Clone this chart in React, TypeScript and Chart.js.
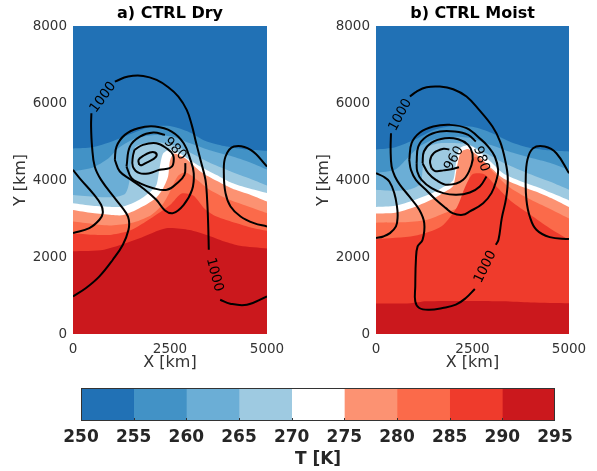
import React, { useEffect, useRef } from 'react';
import { Chart, registerables } from 'chart.js';
Chart.register(...registerables);
Chart.defaults.font.family = '"DejaVu Sans", sans-serif';

type P = [number, number] | null;

// ---------- shared axes / levels ----------
const X_TICKS = [0, 2500, 5000];
const Y_TICKS = [0, 2000, 4000, 6000, 8000];
const LEVELS = [250, 255, 260, 265, 270, 275, 280, 285, 290, 295];
const LEVEL_COLORS = ['#2171b5', '#4292c6', '#6baed6', '#9ecae1', '#ffffff', '#fc9272', '#fb6a4a', '#ef3b2c', '#cb181d'];

// ---------- a) CTRL Dry : isotherms (lower boundary of colder band) ----------
const DRY_T255: P[] = [[0, 4820], [500, 4850], [1000, 5000], [1500, 5200], [2000, 5380], [2500, 5400], [3000, 5240], [3400, 5020], [3900, 4880], [4400, 4800], [5000, 4760]];
const DRY_T260: P[] = [[0, 4230], [500, 4320], [900, 4550], [1200, 4850], [1600, 5080], [2100, 5170], [2600, 5120], [3000, 4960], [3500, 4780], [4000, 4640], [4500, 4480], [5000, 4270]];
const DRY_T265: P[] = [[0, 3610], [600, 3560], [1100, 3560], [1350, 3650], [1450, 3950], [1500, 4500], [1600, 4850], [1900, 4960], [2300, 4970], [2600, 4900], [3000, 4720], [3500, 4460], [4000, 4250], [4500, 4060], [5000, 3860]];
const DRY_T270: P[] = [[0, 3394], [500, 3330], [1000, 3300], [1300, 3310], [1700, 3480], [2000, 3700], [2150, 3870], [2230, 4300], [2320, 4680], [2500, 4790], [2800, 4660], [3000, 4520], [3300, 4340], [3700, 4130], [4100, 3920], [4500, 3790], [5000, 3660]];
const DRY_T275: P[] = [[0, 3220], [500, 3140], [1000, 3090], [1300, 3090], [1700, 3260], [2100, 3500], [2300, 3740], [2450, 4090], [2500, 4500], [2600, 4690], [2900, 4560], [3300, 4210], [3700, 3980], [4100, 3780], [4500, 3640], [5000, 3440]];
const DRY_T280: P[] = [[0, 2920], [500, 2860], [1000, 2820], [1500, 2880], [2000, 3080], [2300, 3350], [2500, 3700], [2700, 4100], [2900, 4200], [3200, 4000], [3500, 3760], [4000, 3500], [4500, 3320], [5000, 3140]];
const DRY_T285: P[] = [[0, 2620], [500, 2580], [1000, 2580], [1500, 2700], [2000, 3000], [2500, 3350], [2800, 3650], [3100, 3600], [3400, 3250], [3700, 3050], [4200, 2880], [4600, 2760], [5000, 2680]];
const DRY_T290: P[] = [[0, 2150], [800, 2190], [1700, 2480], [2400, 2745], [3000, 2700], [3450, 2570], [3900, 2400], [4300, 2290], [5000, 2220]];

// ---------- a) CTRL Dry : pressure contours ----------
const DRY_P1000_MAIN: P[] = [[0, 977], [336, 1194], [681, 1496], [1026, 1929], [1285, 2318], [1431, 2707], [1440, 2967], [1371, 3140], [1112, 3486], [724, 4004], [560, 4350], [491, 4869], [466, 5388], [474, 5734], null,
  [1078, 6556], [1422, 6686], [1810, 6703], [2155, 6599], [2457, 6409], [2716, 6167], [2931, 5821], [3060, 5432], [3155, 5042], [3285, 4523], [3414, 4004], [3457, 3486], [3483, 2880], [3500, 2188], null,
  [3793, 891], [4052, 787], [4483, 761], [5000, 977]];
const DRY_P1000_WEST: P[] = [[0, 4264], [207, 4004], [509, 3659], [724, 3356], [767, 3140], [681, 2967], [422, 2750], [0, 2621]];
const DRY_P1000_EAST: P[] = [[5000, 4350], [4578, 4783], [4147, 4869], [3931, 4610], [3888, 4177], [3931, 3659], [4060, 3313], [4319, 3053], [4664, 2880], [5000, 2794]];
const DRY_P990: P[] = [[1078, 4523], [1121, 4869], [1336, 5172], [1681, 5345], [2112, 5388], [2543, 5259], [2853, 4956], [3026, 4523], [3112, 4177], [3069, 3745], [2853, 3356], [2578, 3140], [2371, 3209], [2147, 3486], [1802, 3788], [1500, 4004], [1207, 4221], [1078, 4523]];
const DRY_P980: P[] = [[1379, 4350], [1466, 4869], [1724, 5129], [2069, 5233], [2371, 5172], null, [2897, 4437], [2871, 4134], [2681, 3918], [2422, 3745], [2069, 3788], [1724, 3918], [1509, 4048], [1379, 4350]];
const DRY_P970: P[] = [[1586, 4783], [1802, 4913], [2147, 4956], [2405, 4826], [2578, 4653], [2578, 4394], [2491, 4307], [2233, 4264], [1974, 4177], [1716, 4177], [1543, 4350], [1543, 4610], [1586, 4783]];
const DRY_P960: P[] = [[1707, 4394], [1690, 4523], [1810, 4627], [1983, 4714], [2112, 4714], [2155, 4627], [2069, 4541], [1897, 4454], [1767, 4385], [1707, 4394]];
const DRY_LABELS = [
  { text: '1000', x: 776, y: 6145, angle: -54 },
  { text: '1000', x: 3646, y: 1540, angle: 75 },
  { text: '980', x: 2634, y: 4805, angle: 45 },
];

// ---------- b) CTRL Moist : isotherms ----------
const MOIST_T255: P[] = [[0, 4790], [500, 4850], [1000, 5050], [1500, 5300], [2000, 5400], [2500, 5380], [3000, 5220], [3500, 4980], [4000, 4830], [4500, 4770], [5000, 4740]];
const MOIST_T260: P[] = [[0, 4180], [500, 4270], [800, 4550], [1100, 4850], [1500, 5050], [2000, 5120], [2500, 5080], [3000, 4900], [3500, 4720], [4000, 4580], [4500, 4450], [5000, 4260]];
const MOIST_T265: P[] = [[0, 3750], [500, 3720], [900, 3760], [1150, 3900], [1220, 4400], [1300, 4830], [1600, 4950], [2000, 4960], [2400, 4920], [2800, 4720], [3300, 4450], [4000, 4150], [4500, 3960], [5000, 3750]];
const MOIST_T270: P[] = [[0, 3300], [500, 3330], [1000, 3480], [1500, 3680], [1800, 3850], [2000, 4000], [2080, 4500], [2180, 4830], [2400, 4900], [2600, 4800], [3000, 4450], [3300, 4170], [3700, 3990], [4140, 3830], [4600, 3640], [5000, 3470]];
const MOIST_T275: P[] = [[0, 3130], [500, 3150], [1000, 3300], [1500, 3520], [1800, 3700], [2000, 3850], [2100, 4350], [2200, 4720], [2400, 4800], [2700, 4580], [3000, 4300], [3300, 4040], [3700, 3860], [4140, 3700], [4600, 3500], [5000, 3300]];
const MOIST_T280: P[] = [[0, 2890], [700, 2900], [1300, 2960], [1800, 3150], [2150, 3300], [2350, 3600], [2450, 4300], [2550, 4600], [2800, 4450], [3100, 4150], [3400, 3850], [3800, 3600], [4300, 3350], [5000, 3000]];
const MOIST_T285: P[] = [[0, 2460], [1000, 2550], [1700, 2800], [2100, 3300], [2300, 3800], [2500, 4150], [2800, 4150], [3100, 3850], [3500, 3450], [4000, 3100], [4500, 2750], [5000, 2450]];
const MOIST_T290: P[] = [[0, 790], [900, 800], [1300, 850], [2500, 860], [3300, 850], [4000, 820], [5000, 800]];

// ---------- b) CTRL Moist : pressure contours ----------
const MOIST_P1000_MAIN: P[] = [[388, 5215], [379, 4783], [405, 4350], [491, 4091], [621, 3875], [862, 3572], [1121, 3226], [1250, 2880], [1207, 2448], [1078, 2275], [1034, 1929], [1017, 1237], [1017, 848], [1121, 675], [1379, 631], [1724, 675], [2069, 761], [2328, 934], [2560, 1168], null,
  [3104, 2318], [3173, 2448], [3259, 3010], [3371, 3529], [3414, 4048], [3345, 4523], [3216, 4999], [3017, 5388], [2672, 5821], [2345, 6167], [2000, 6357], [1655, 6426], [1310, 6409], [1052, 6297], [879, 6167]];
const MOIST_P1000_WEST: P[] = [[0, 4177], [190, 4091], [345, 3961], [474, 3659], [543, 3313], [560, 3053], [517, 2794], [362, 2621], [190, 2534], [0, 2491]];
const MOIST_P1000_EAST: P[] = [[5000, 4177], [4673, 4696], [4371, 4869], [4069, 4826], [3922, 4523], [3879, 4004], [3897, 3486], [3983, 3053], [4155, 2707], [4500, 2517], [5000, 2465]];
const MOIST_P990: P[] = [[862, 4523], [922, 4956], [1138, 5233], [1483, 5388], [1914, 5432], [2345, 5345], [2733, 5042], [2905, 4869], [3078, 4610], [3164, 4264], [3121, 4004], [2991, 3659], [2776, 3399], [2431, 3183], [2241, 3096], [1983, 3140], [1810, 3269], [1552, 3486], [1293, 3745], [1034, 4004], [905, 4264], [862, 4523]];
const MOIST_P980: P[] = [[1052, 4437], [1095, 4869], [1310, 5129], [1655, 5259], [2043, 5259], [2388, 5172], [2586, 4999], null, [2862, 4091], [2690, 3831], [2431, 3676], [2086, 3615], [1741, 3659], [1440, 3788], [1181, 4004], [1069, 4221], [1052, 4437]];
const MOIST_P970: P[] = [[1207, 4437], [1241, 4740], [1440, 4973], [1785, 5086], [2129, 5060], [2388, 4913], [2500, 4679], [2474, 4394], [2259, 4004], [1853, 3875], [1552, 4004], [1353, 4177], [1207, 4437]];
const MOIST_P960: P[] = [[1440, 4300], [1400, 4500], [1500, 4700], [1750, 4810], [1900, 4790], null, [2150, 4330], [1950, 4280], [1750, 4250], [1550, 4230], [1440, 4300]];
const MOIST_LABELS = [
  { text: '1000', x: 634, y: 5691, angle: -62 },
  { text: '1000', x: 2832, y: 1743, angle: -64 },
  { text: '980', x: 2724, y: 4545, angle: 72 },
  { text: '960', x: 2025, y: 4560, angle: -60 },
];

const DRY_ISOTHERMS = [DRY_T255, DRY_T260, DRY_T265, DRY_T270, DRY_T275, DRY_T280, DRY_T285, DRY_T290];
const DRY_CONTOURS = [DRY_P1000_MAIN, DRY_P1000_WEST, DRY_P1000_EAST, DRY_P990, DRY_P980, DRY_P970, DRY_P960];
const MOIST_ISOTHERMS = [MOIST_T255, MOIST_T260, MOIST_T265, MOIST_T270, MOIST_T275, MOIST_T280, MOIST_T285, MOIST_T290];
const MOIST_CONTOURS = [MOIST_P1000_MAIN, MOIST_P1000_WEST, MOIST_P1000_EAST, MOIST_P990, MOIST_P980, MOIST_P970, MOIST_P960];

const TEXT = '#333333';
const plainTick = (v: any) => String(v);

function toXY(pts: P[]) {
  return pts.filter((p) => p !== null).map((p) => ({ x: (p as [number, number])[0], y: (p as [number, number])[1] }));
}
function segments(pts: P[]) {
  const out: { x: number; y: number }[][] = [];
  let cur: { x: number; y: number }[] = [];
  for (const p of pts) {
    if (p === null) { if (cur.length) out.push(cur); cur = []; }
    else cur.push({ x: p[0], y: p[1] });
  }
  if (cur.length) out.push(cur);
  return out;
}

function Panel(props: { left: number; width: number; rightPad: number; title: string; isotherms: P[][]; contours: P[][]; labels: { text: string; x: number; y: number; angle: number }[] }) {
  const ref = useRef<HTMLCanvasElement>(null);
  useEffect(() => {
    const datasets: any[] = [];
    props.isotherms.forEach((pts, i) => {
      datasets.push({
        data: toXY(pts), borderColor: 'rgba(0,0,0,0)', borderWidth: 0, backgroundColor: LEVEL_COLORS[i + 1],
        fill: 'start', pointRadius: 0, tension: 0.25, order: 20 - i,
      });
    });
    props.contours.forEach((pts) => {
      segments(pts).forEach((seg) => {
        datasets.push({ data: seg, borderColor: '#000', borderWidth: 2, fill: false, pointRadius: 0, tension: 0.4, order: 0 });
      });
    });
    const bgPlugin = {
      id: 'bg',
      beforeDatasetsDraw(chart: any) {
        const { ctx, chartArea: a } = chart;
        ctx.save(); ctx.fillStyle = LEVEL_COLORS[0]; ctx.fillRect(a.left, a.top, a.right - a.left, a.bottom - a.top); ctx.restore();
      },
    };
    const labelPlugin = {
      id: 'clabels',
      afterDatasetsDraw(chart: any) {
        const { ctx, scales } = chart;
        ctx.save();
        ctx.font = '13.5px "DejaVu Sans"'; ctx.fillStyle = '#000'; ctx.textAlign = 'center'; ctx.textBaseline = 'middle';
        for (const l of props.labels) {
          ctx.save();
          ctx.translate(scales.x.getPixelForValue(l.x), scales.y.getPixelForValue(l.y));
          ctx.rotate((l.angle * Math.PI) / 180);
          ctx.fillText(l.text, 0, 0);
          ctx.restore();
        }
        ctx.restore();
      },
    };
    const chart = new Chart(ref.current as HTMLCanvasElement, {
      type: 'line',
      data: { datasets },
      plugins: [bgPlugin, labelPlugin],
      options: {
        animation: false, responsive: false, devicePixelRatio: 1,
        layout: { padding: { left: 0, top: 0, right: props.rightPad, bottom: 0 } },
        plugins: {
          legend: { display: false }, tooltip: { enabled: false },
          title: { display: true, text: props.title, fullSize: false, color: '#000', font: { size: 16, weight: 'bold' }, padding: { top: 4.6, bottom: 2.2 } },
        },
        scales: {
          x: {
            type: 'linear', min: 0, max: 5000,
            afterBuildTicks: (s: any) => { s.ticks = X_TICKS.map((v) => ({ value: v })); },
            afterFit: (s: any) => { s.height = 46; },
            ticks: { color: TEXT, font: { size: 13.5 }, padding: 7, maxRotation: 0, callback: plainTick },
            grid: { display: false, drawTicks: false }, border: { display: false },
            title: { display: true, text: 'X [km]', color: TEXT, font: { size: 16 }, padding: { top: 0, bottom: 7.2 } },
          },
          y: {
            type: 'linear', min: 0, max: 8000,
            afterBuildTicks: (s: any) => { s.ticks = Y_TICKS.map((v) => ({ value: v })); },
            afterFit: (s: any) => { s.width = 73; },
            ticks: { color: TEXT, font: { size: 13.5 }, padding: 6, callback: plainTick },
            grid: { display: false, drawTicks: false }, border: { display: false },
            title: { display: true, text: 'Y [km]', color: TEXT, font: { size: 16 }, padding: { top: 11, bottom: 0 } },
          },
        },
      } as any,
    });
    return () => chart.destroy();
  }, []);
  return <canvas ref={ref} width={props.width} height={380} style={{ position: 'absolute', left: props.left, top: 0, width: props.width, height: 380 }} />;
}

function ColorBar() {
  const ref = useRef<HTMLCanvasElement>(null);
  useEffect(() => {
    const datasets = LEVEL_COLORS.map((c, i) => ({
      data: [[LEVELS[i], LEVELS[i + 1]]], backgroundColor: c, borderWidth: 0, grouped: false, barPercentage: 1, categoryPercentage: 1,
    }));
    const framePlugin = {
      id: 'frame',
      afterDatasetsDraw(chart: any) {
        const { ctx, chartArea: a, scales } = chart;
        ctx.save();
        ctx.strokeStyle = '#333'; ctx.lineWidth = 1;
        ctx.strokeRect(a.left + 0.5, a.top + 0.5, a.right - a.left - 1, a.bottom - a.top - 1);
        for (const v of LEVELS.slice(1, -1)) {
          const px = Math.round(scales.x.getPixelForValue(v)) + 0.5;
          ctx.beginPath(); ctx.moveTo(px, a.bottom); ctx.lineTo(px, a.bottom - 3); ctx.stroke();
        }
        ctx.restore();
      },
    };
    const chart = new Chart(ref.current as HTMLCanvasElement, {
      type: 'bar',
      data: { labels: ['T'], datasets },
      plugins: [framePlugin],
      options: {
        animation: false, responsive: false, devicePixelRatio: 1, indexAxis: 'y',
        layout: { padding: { left: 81, right: 42, top: 8, bottom: 0 } },
        plugins: { legend: { display: false }, tooltip: { enabled: false } },
        scales: {
          x: {
            type: 'linear', min: 250, max: 295,
            afterBuildTicks: (s: any) => { s.ticks = LEVELS.map((v) => ({ value: v })); },
            afterFit: (s: any) => { s.height = 50; },
            ticks: { color: '#262626', font: { size: 17, weight: 'bold' }, padding: 6.8, maxRotation: 0, autoSkip: false, callback: plainTick },
            grid: { display: false, drawTicks: false }, border: { display: false },
            title: { display: true, text: 'T [K]', color: '#262626', font: { size: 17, weight: 'bold' }, padding: { top: 0, bottom: 0.8 } },
          },
          y: { display: false },
        },
      } as any,
    });
    return () => chart.destroy();
  }, []);
  return <canvas ref={ref} width={597} height={91} style={{ position: 'absolute', left: 0, top: 380, width: 597, height: 91 }} />;
}

export default function App() {
  return (
    <div style={{ position: 'absolute', left: 0, top: 0, width: 597, height: 471, background: '#fff', overflow: 'hidden' }}>
      <Panel left={0} width={300} rightPad={33} title="a) CTRL Dry" isotherms={DRY_ISOTHERMS} contours={DRY_CONTOURS} labels={DRY_LABELS} />
      <Panel left={303} width={294} rightPad={28} title="b) CTRL Moist" isotherms={MOIST_ISOTHERMS} contours={MOIST_CONTOURS} labels={MOIST_LABELS} />
      <ColorBar />
    </div>
  );
}
